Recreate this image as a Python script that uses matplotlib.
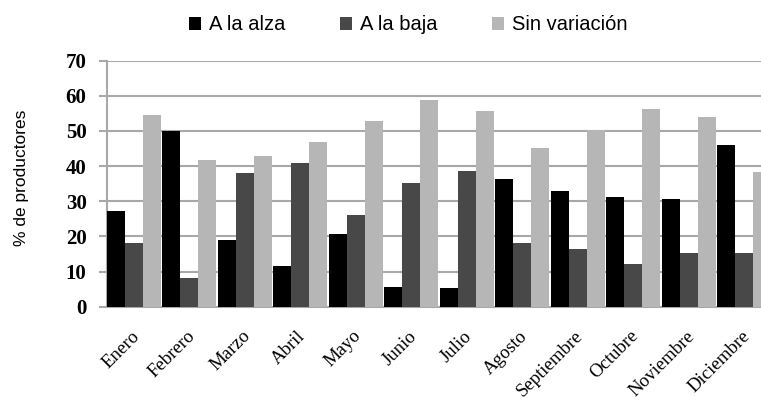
import matplotlib
matplotlib.use("Agg")
import matplotlib.pyplot as plt
import numpy as np

# --------------- DATA ------------------
meses = ["Enero", "Febrero", "Marzo", "Abril", "Mayo", "Junio", "Julio",
         "Agosto", "Septiembre", "Octubre", "Noviembre", "Diciembre"]
alza = [27.1, 50.1, 19.0, 11.5, 20.8, 5.7, 5.2, 36.2, 33.0, 31.1, 30.7, 46.0]
baja = [18.0, 8.2, 38.0, 41.0, 26.1, 35.2, 38.7, 18.0, 16.5, 12.2, 15.2, 15.2]
sin_var = [54.6, 41.8, 42.8, 46.9, 52.9, 58.9, 55.6, 45.2, 50.3, 56.3, 54.1, 38.3]
series = [("A la alza", alza, "#000000"),
          ("A la baja", baja, "#484848"),
          ("Sin variación", sin_var, "#b6b6b6")]
yticks = [0, 10, 20, 30, 40, 50, 60, 70]

# --------------- PLOT ------------------
W, H = 761, 412
fig = plt.figure(figsize=(W / 100, H / 100), dpi=100)
left, top, bottom = 106.7, 60.7, 306.7
ax = fig.add_axes([left / W, 1 - bottom / H, 1 - left / W, (bottom - top) / H])

x = np.arange(len(meses))
w = 0.325
for k, (name, vals, col) in enumerate(series):
    ax.bar(x + (k - 1) * w, vals, w, color=col, label=name, zorder=3)

grid_col = "#a8a8a8"
ax.set_ylim(0, 70)
ax.set_yticks(yticks)
ax.yaxis.grid(True, color=grid_col, linewidth=1.5, zorder=0)
ax.set_xlim(-1.5 * w, (W - left) / 55.5 - 1.5 * w)

for s in ["top", "right"]:
    ax.spines[s].set_visible(False)
for s in ["left", "bottom"]:
    ax.spines[s].set_color(grid_col)
    ax.spines[s].set_linewidth(1.5)

ax.tick_params(axis="y", length=5.5, width=1.5, color=grid_col, pad=9)
ax.tick_params(axis="x", length=0, pad=15)
for lab in ax.get_yticklabels():
    lab.set_family("Liberation Serif")
    lab.set_fontweight("bold")
    lab.set_fontsize(15)

# labels end a little right of the group centre
ax.set_xticks(x + 0.16)
ax.set_xticklabels(meses, rotation=45, ha="right", va="top",
                   family="Liberation Serif", fontsize=13.5)

fig.text(22 / W, 1 - 178 / H, "% de productores", rotation=90,
         ha="center", va="center", family="Liberation Sans", fontsize=12.5)

ax.legend(loc="center", bbox_to_anchor=(408.5 / W, 1 - 25 / H),
          bbox_transform=fig.transFigure, ncol=3, frameon=False,
          prop={"family": "Liberation Sans", "size": 14.5},
          handlelength=0.6, handleheight=0.6, handletextpad=0.4,
          columnspacing=2.7)

fig.savefig("out.png", dpi=100)
